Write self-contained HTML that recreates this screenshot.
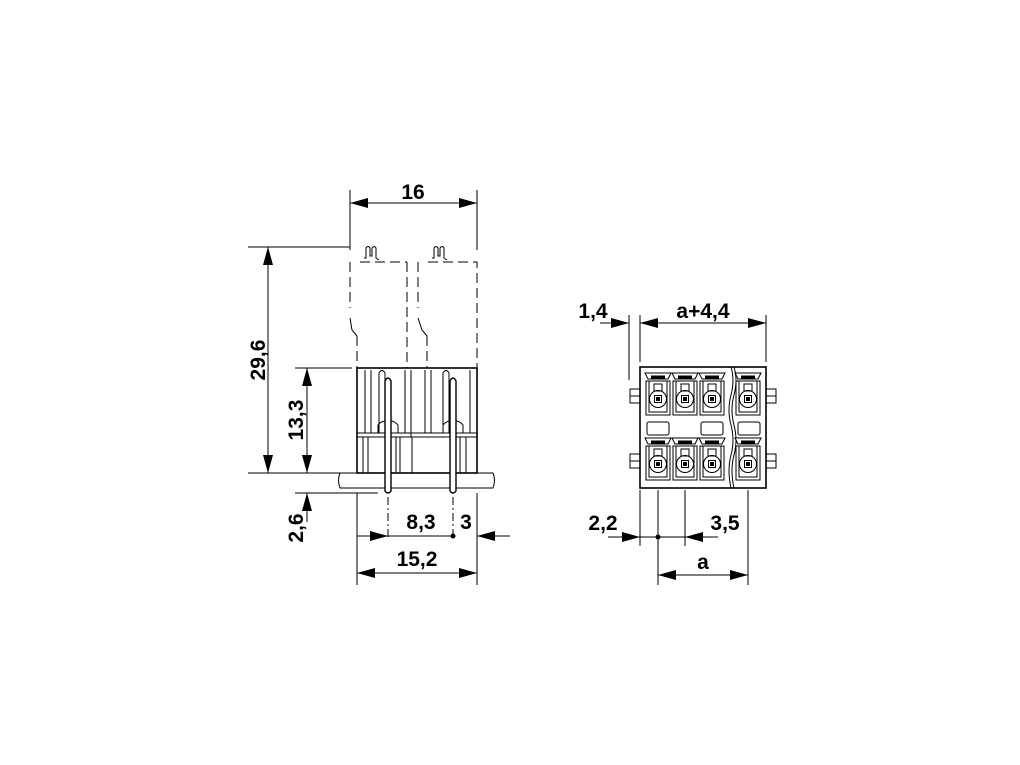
<!DOCTYPE html>
<html><head><meta charset="utf-8"><style>
html,body{margin:0;padding:0;background:#fff}
svg{display:block}
text{font-family:"Liberation Sans",sans-serif;font-weight:bold;font-size:21px;fill:#000}
</style></head><body>
<svg width="1020" height="765" viewBox="0 0 1020 765" xmlns="http://www.w3.org/2000/svg">
<defs>
<marker id="a" markerWidth="18" markerHeight="10" refX="18" refY="5" orient="auto-start-reverse" markerUnits="userSpaceOnUse"><path d="M0,0 L18,5 L0,10 Z" fill="#000"/></marker>
</defs>
<g stroke="#000" stroke-width="1" fill="none">
<line x1="350" y1="190" x2="350" y2="250"/>
<line x1="477" y1="190" x2="477" y2="250"/>
<line x1="248" y1="247" x2="350" y2="247"/>
<line x1="248" y1="473" x2="340" y2="473"/>
<line x1="295" y1="368" x2="352" y2="368"/>
<line x1="295" y1="493" x2="378" y2="493"/>
<line x1="357" y1="493" x2="357" y2="585"/>
<line x1="477" y1="493" x2="477" y2="585"/>
<line x1="388" y1="497" x2="388" y2="540" stroke-dasharray="8,3,2,3"/>
<line x1="453" y1="497" x2="453" y2="540" stroke-dasharray="8,3,2,3"/>
<line x1="350" y1="203" x2="477" y2="203" marker-start="url(#a)" marker-end="url(#a)"/>
<line x1="268" y1="247" x2="268" y2="473" marker-start="url(#a)" marker-end="url(#a)"/>
<line x1="307" y1="368" x2="307" y2="473" marker-start="url(#a)" marker-end="url(#a)"/>
<line x1="307" y1="522" x2="307" y2="493" marker-end="url(#a)"/>
<line x1="357" y1="536" x2="388" y2="536" marker-end="url(#a)"/>
<line x1="388" y1="536" x2="453" y2="536"/>
<line x1="510" y1="536" x2="477" y2="536" marker-end="url(#a)"/>
<line x1="357" y1="573" x2="477" y2="573" marker-start="url(#a)" marker-end="url(#a)"/>
<g stroke-dasharray="10,5">
<path d="M350,262 L350,308 M357,336 L357,368"/>
<path d="M360,262 L407,262 M407,262 L407,368"/>
<path d="M418,262 L418,308 M427,336 L427,368"/>
<path d="M428,262 L477,262 L477,368"/>
</g>
<path d="M350,318 L352,330 L357,336"/>
<path d="M418,318 L422,330 L427,336"/>
<path d="M364,258 L366,258 L366,248 Q368,245 370,248 L370,256 L372,256 L372,248 Q374,245 376,248 L376,258 L379,260"/>
<path d="M432,258 L434,258 L434,248 Q436,245 438,248 L438,256 L440,256 L440,248 Q442,245 444,248 L444,258 L447,260"/>
<rect x="357" y="368" width="120" height="105" stroke-width="1.6"/>
<line x1="357" y1="437" x2="477" y2="437"/>
<line x1="357" y1="433" x2="477" y2="433"/>
<path d="M365,370 L365,433 M371,370 L371,433 M405,370 L405,433 M411,370 L411,437 M425,370 L425,433 M431,370 L431,433 M470,370 L470,433"/>
<path d="M379,373 Q382,368 385,373 L385,433 M379,373 L379,433"/>
<path d="M443,373 Q446,368 449,373 L449,433 M443,373 L443,433"/>
<path d="M378,433 L378,425 Q382,420 388,421 M398,433 L398,425 Q394,420 388,421"/>
<path d="M443,433 L443,425 Q447,420 453,421 M463,433 L463,425 Q459,420 453,421"/>
<path d="M363,437 L363,473 M368,437 L368,473 M396,437 L396,473 M400,437 L400,473 M412,437 L412,473 M460,437 L460,473 M466,437 L466,473"/>
<path d="M340,473 L493,473 Q496,480 493,488 L340,488 Q337,480 340,473 Z"/>
<path d="M385,381 Q388,375 391,381 L391,491 Q388,495 385,491 Z" fill="#fff" stroke-width="1.4"/>
<path d="M450,381 Q453,375 456,381 L456,491 Q453,495 450,491 Z" fill="#fff" stroke-width="1.4"/>

<line x1="629" y1="315" x2="629" y2="380"/>
<line x1="640" y1="315" x2="640" y2="362"/>
<line x1="766" y1="315" x2="766" y2="362"/>
<line x1="600" y1="323" x2="629" y2="323" marker-end="url(#a)"/>
<line x1="640" y1="323" x2="766" y2="323" marker-start="url(#a)" marker-end="url(#a)"/>
<line x1="640" y1="490" x2="640" y2="546"/>
<line x1="658" y1="490" x2="658" y2="585"/>
<line x1="685" y1="490" x2="685" y2="546"/>
<line x1="748" y1="490" x2="748" y2="585"/>
<line x1="608" y1="537" x2="640" y2="537" marker-end="url(#a)"/>
<line x1="640" y1="537" x2="685" y2="537"/>
<line x1="718" y1="537" x2="685" y2="537" marker-end="url(#a)"/>
<line x1="658" y1="575" x2="748" y2="575" marker-start="url(#a)" marker-end="url(#a)"/>
<rect x="640" y="367" width="126" height="121" stroke-width="1.6"/>
<path d="M731,367 Q735,380 731,395 Q727,410 731,425 Q735,440 731,455 Q727,470 731,488"/>
<path d="M734,367 Q738,380 734,395 Q730,410 734,425 Q738,440 734,455 Q730,470 734,488"/>
<rect x="630" y="389" width="10" height="14"/><rect x="630" y="454" width="10" height="14"/>
<rect x="766" y="389" width="10" height="14"/><rect x="766" y="454" width="10" height="14"/>
<line x1="630" y1="396" x2="640" y2="396"/><line x1="630" y1="461" x2="640" y2="461"/>
<line x1="766" y1="396" x2="776" y2="396"/><line x1="766" y1="461" x2="776" y2="461"/>
<rect x="647" y="422" width="22" height="13" rx="2"/>
<rect x="701" y="422" width="22" height="13" rx="2"/>
<rect x="738" y="422" width="22" height="13" rx="2"/>
</g>
<g stroke="#000" stroke-width="1" fill="none">
<g id="c1">
<path d="M645,373 L671,373 L668,379 L648,379 Z" fill="#fff"/>
<line x1="651" y1="377" x2="665" y2="377" stroke-width="3"/>
<path d="M646,381 L670,381 L670,415 L646,415 Z"/>
<path d="M649,381 L649,412 L667,412 L667,381"/>
<rect x="654" y="384" width="8" height="7"/>
<circle cx="658" cy="399" r="8.5"/>
<rect x="654.5" y="395.5" width="7" height="7"/>
<rect x="656.5" y="397.5" width="3" height="3" fill="#000"/>
</g>
<use href="#c1" x="27"/><use href="#c1" x="54"/><use href="#c1" x="90"/>
<use href="#c1" y="65"/><use href="#c1" x="27" y="65"/><use href="#c1" x="54" y="65"/><use href="#c1" x="90" y="65"/>
</g>
<circle cx="453" cy="536" r="2.5" fill="#000"/>
<circle cx="658" cy="537" r="2.5" fill="#000"/>
<text x="413" y="199" text-anchor="middle">16</text>
<text transform="translate(265,360) rotate(-90)" text-anchor="middle">29,6</text>
<text transform="translate(303,420) rotate(-90)" text-anchor="middle">13,3</text>
<text transform="translate(303,528) rotate(-90)" text-anchor="middle">2,6</text>
<text x="421" y="529" text-anchor="middle">8,3</text>
<text x="466" y="529" text-anchor="middle">3</text>
<text x="417" y="566" text-anchor="middle">15,2</text>
<text x="593" y="318" text-anchor="middle">1,4</text>
<text x="703" y="318" text-anchor="middle">a+4,4</text>
<text x="603" y="530" text-anchor="middle">2,2</text>
<text x="725" y="530" text-anchor="middle">3,5</text>
<text x="703" y="569" text-anchor="middle">a</text>
</svg>
</body></html>
